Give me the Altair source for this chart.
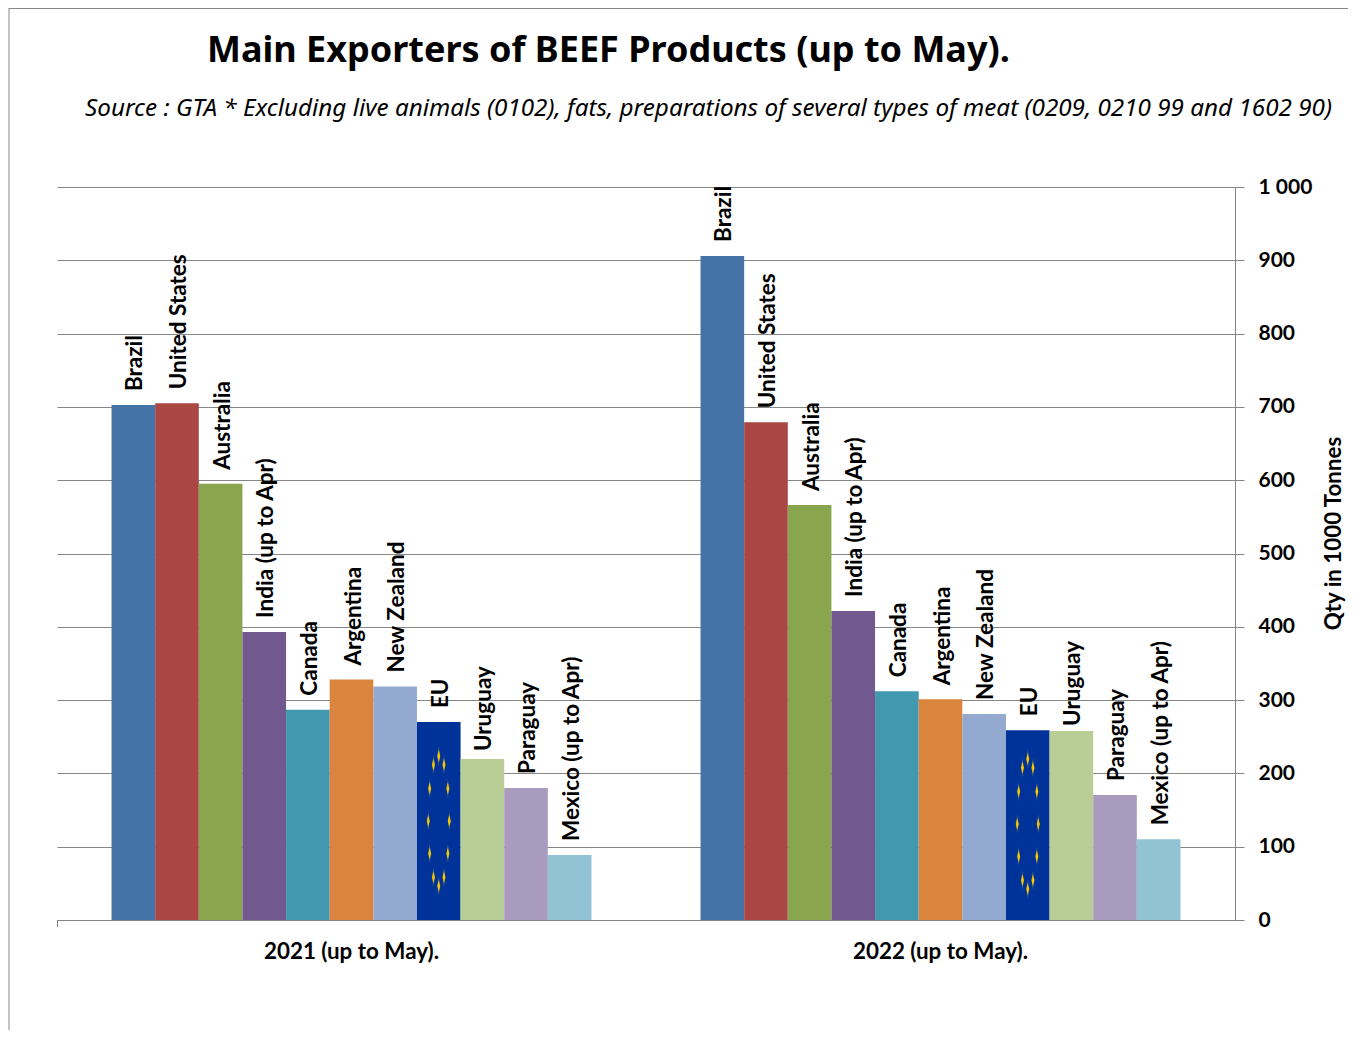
import math
import altair as alt
import pandas as pd

periods = ["2021 (up to May).", "2022 (up to May)."]
countries = ["Brazil", "United States", "Australia", "India (up to Apr)", "Canada", "Argentina",
             "New Zealand", "EU", "Uruguay", "Paraguay", "Mexico (up to Apr)"]
values_2021 = [702.5, 705, 595, 393, 287, 328, 318.5, 270, 219.5, 180, 88.7]
values_2022 = [906, 679, 566, 421.5, 312, 301, 281, 259, 258, 170.5, 110]
colors = ["#4572A7", "#AA4643", "#89A54E", "#71588F", "#4198AF", "#DB843D",
          "#93A9CF", "#003399", "#B9CD96", "#A99BBD", "#92C3D5"]
ticks = list(range(0, 1001, 100))
flag_centre = [135, 131]

rows = []
for p, vals in zip(periods, [values_2021, values_2022]):
    for c, v in zip(countries, vals):
        rows.append({"period": p, "country": c, "value": v})
df = pd.DataFrame(rows)
eu = pd.DataFrame({"period": periods, "country": ["EU", "EU"], "value": flag_centre})
slots = ["_before"] + countries + ["_after"]


def ring(half_w, half_h):
    parts = []
    for i in range(12):
        a = math.radians(30 * i)
        x, y = 10.5 * math.sin(a), -65 * math.cos(a)
        parts.append(f"M{x:.1f},{y-half_h:.1f}L{x+half_w:.1f},{y:.1f}L{x:.1f},{y+half_h:.1f}L{x-half_w:.1f},{y:.1f}Z")
    return "".join(parts)


x_enc = alt.X("period:N", sort=periods, title=None,
              scale=alt.Scale(paddingInner=0, paddingOuter=0),
              axis=alt.Axis(labelAngle=0, labelFont="Lato", labelFontWeight="bold", labelFontSize=22.4,
                            labelColor="#000000", labelPadding=20, domainColor="#868686", domainWidth=1,
                            ticks=False, grid=False))
off = alt.XOffset("country:N", scale=alt.Scale(domain=slots, paddingInner=0, paddingOuter=0.25))
y_enc = alt.Y("value:Q", title="Qty in 1000 Tonnes",
              scale=alt.Scale(domain=[0, 1000], nice=False),
              axis=alt.Axis(orient="right", values=ticks, labelExpr="replace(format(datum.value, ',d'), ',', ' ')",
                            labelFont="Lato", labelFontWeight="bold", labelFontSize=21, labelColor="#000000",
                            labelPadding=14, labelAlign="left", titleFont="Lato", titleFontWeight="bold", titleFontSize=22.3,
                            titleColor="#000000", titleAngle=270, titleX=98, titleY=346, titleBaseline="middle",
                            domainColor="#868686", tickColor="#868686",
                            tickSize=9, grid=True, gridColor="#868686", gridWidth=1))
x_plain = alt.X("period:N", sort=periods)
y_plain = alt.Y("value:Q")

bars = alt.Chart(df).mark_bar(stroke=None).encode(
    x=x_enc, xOffset=off, y=y_enc,
    color=alt.Color("country:N", sort=countries, scale=alt.Scale(domain=countries, range=colors), legend=None))


def label_layer(data, gap):
    return alt.Chart(data).mark_text(angle=270, align="left", baseline="middle", dx=gap, dy=2, font="Lato",
                                     fontWeight="bold", fontSize=22.5, color="#000000").encode(
        x=x_plain, xOffset=off, y=y_plain, text="country:N")


labels = label_layer(df[df.country != "Uruguay"], 14)
uruguay_a = label_layer(df[(df.country == "Uruguay") & (df.period == periods[0])], 8)
uruguay_b = label_layer(df[(df.country == "Uruguay") & (df.period == periods[1])], 5)

glow = alt.Chart(eu).mark_point(shape=ring(1.6, 9.5), size=4, filled=True, opacity=0.4, color="#b7a23a").encode(
    x=x_plain, xOffset=off, y=y_plain)
stars = alt.Chart(eu).mark_point(shape=ring(1.4, 6), size=4, filled=True, opacity=1, color="#f7c800").encode(
    x=x_plain, xOffset=off, y=y_plain)


def note(text, x, y, **kw):
    return alt.Chart(pd.DataFrame({"t": [text]})).mark_text(align="left", baseline="middle", color="#000000", **kw).encode(
        x=alt.value(x), y=alt.value(y), text="t:N")


title = note("Main Exporters of BEEF Products (up to May).", 150, -136, font="Noto Sans", fontWeight="bold", fontSize=36)
source = note("Source : GTA * Excluding live animals (0102), fats, preparations of several types of meat (0209, 0210 99 and 1602 90)",
              28, -78, font="Noto Sans", fontStyle="italic", fontSize=24.25)
one = pd.DataFrame({"a": [0]})
frame_top = alt.Chart(one).mark_rule(color="#868686", strokeWidth=1).encode(
    x=alt.value(-48), x2=alt.value(1299), y=alt.value(-178.5))
frame_left = alt.Chart(one).mark_rule(color="#868686", strokeWidth=1).encode(
    x=alt.value(-48), y=alt.value(-179), y2=alt.value(851))
corner_tick = alt.Chart(one).mark_rule(color="#868686", strokeWidth=1).encode(
    x=alt.value(0.5), y=alt.value(733), y2=alt.value(740))

chart = alt.layer(frame_top, frame_left, corner_tick, bars, glow, stars, labels, uruguay_a, uruguay_b,
                  title, source).properties(
    width=1178, height=733, autosize=alt.AutoSizeParams(type="none"), background="#ffffff",
    padding={"left": 49, "top": 179, "right": 113, "bottom": 110}
).configure_view(stroke="transparent", strokeWidth=0)

chart.save("out.html", embed_options={"renderer": "svg", "actions": False})
